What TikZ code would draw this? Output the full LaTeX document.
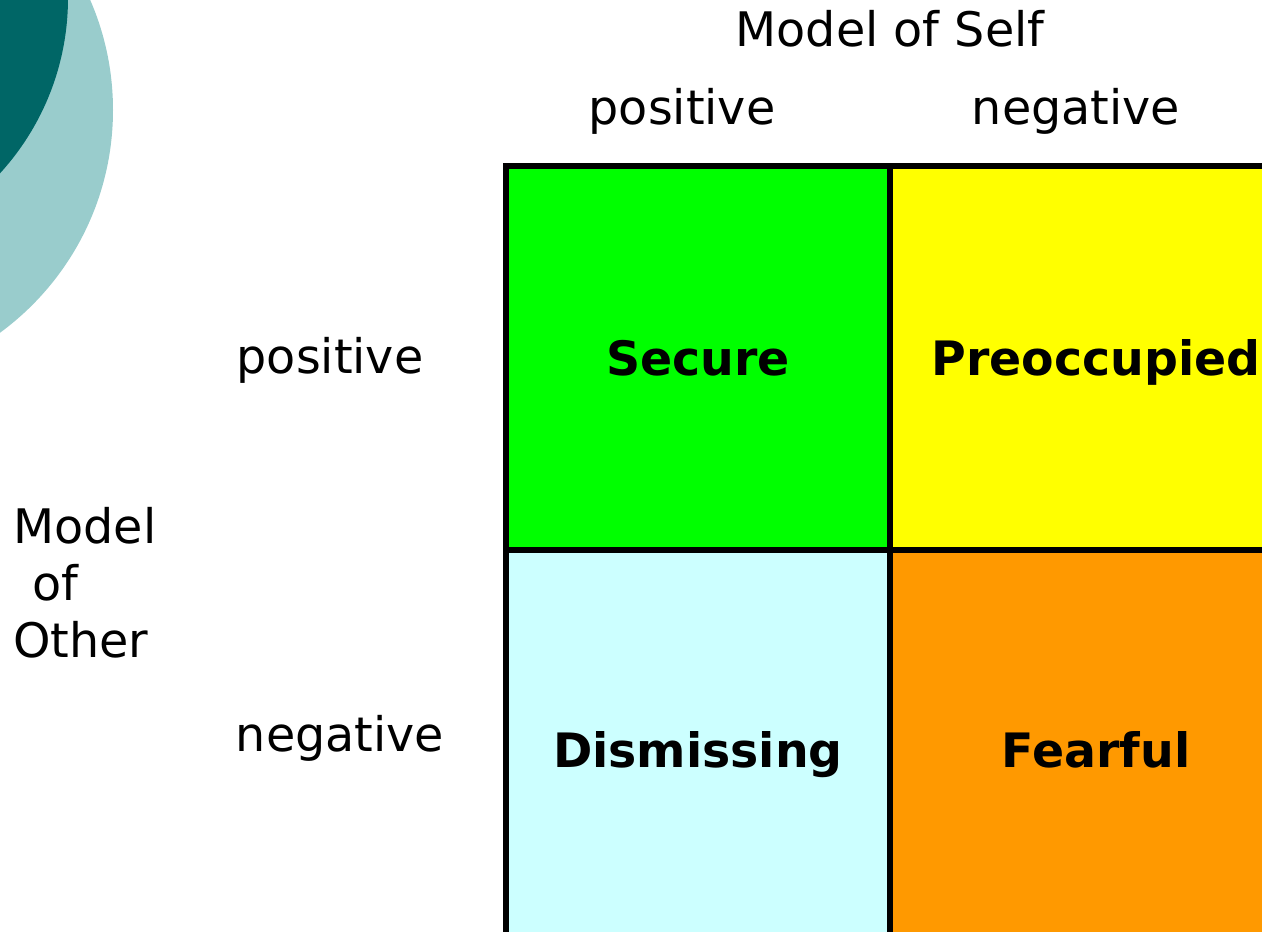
\documentclass[tikz,border=0pt]{standalone}
\usepackage{fontspec}
\setmainfont{DejaVu Sans}
\definecolor{tealdark}{HTML}{006666}
\definecolor{teallight}{HTML}{99CCCC}
\definecolor{securefill}{HTML}{00FF00}
\definecolor{preofill}{HTML}{FFFF00}
\definecolor{dismfill}{HTML}{CCFFFF}
\definecolor{fearfill}{HTML}{FF9900}
\begin{document}
\begin{tikzpicture}[x=0.5pt, y=-0.5pt,
    every node/.style={font=\fontsize{23.8}{28.5}\selectfont, inner sep=0pt},
    cell/.style={draw=black, line width=3pt, text height=17.3pt, text depth=0pt,
      minimum height=192pt, font=\fontsize{23.7}{28.5}\selectfont\bfseries}]
    \useasboundingbox (0,0) rectangle (1262,931);
    \clip (0,0) rectangle (1262,931);
    \fill[teallight] (-163,110) circle (138pt);
    \fill[tealdark] (-192,-2) circle (130pt);
    \node[anchor=base](selfhead)at (890,47){Model of Self};
    \node[anchor=base](selfpos)at (682,125){positive};
    \node[anchor=base](selfneg)at (1076,125){negative};
    \node[anchor=base](otherpos)at (330,373){positive};
    \node[anchor=base](otherneg)at (340,751){negative};
    \node[anchor=north west, align=left](otherhead)at (13,507){Model\\\hspace*{0.4em}of\\Other};
    \node[cell, fill=securefill, minimum width=192pt](secure)at (698,358){Secure};
    \node[cell, fill=preofill, minimum width=206pt](preocc)at (1096,358){Preoccupied};
    \node[cell, fill=dismfill, minimum width=192pt, minimum height=200pt](dism)at (698,750){Dismissing};
    \node[cell, fill=fearfill, minimum width=206pt, minimum height=200pt](fear)at (1096,750){Fearful};
\end{tikzpicture}
\end{document}
